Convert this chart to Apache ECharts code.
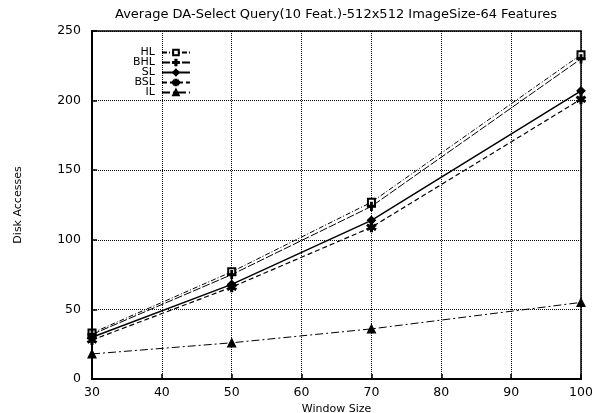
<!DOCTYPE html>
<html lang="en">
<head>
    <meta charset="UTF-8">
    <title>Average DA-Select Query</title>
    <script src="https://cdn.jsdelivr.net/npm/echarts@6/dist/echarts.min.js"></script>
    <style>
        html, body { margin: 0; padding: 0; background: #fff; }
        #main { width: 592px; height: 413px; }
    </style>
</head>
<body>
    <div id="main"></div>
    <script>
        // window sizes on the x axis
        var windowSizes = [30, 50, 70, 100];
        // disk accesses per method
        var hl  = [33, 77, 127, 233];
        var bhl = [32, 75, 124, 230];
        var sl  = [30, 68, 114, 207];
        var bsl = [28, 66, 109, 201];
        var il  = [18, 26, 36, 55];
        var names = ['HL', 'BHL', 'SL', 'BSL', 'IL'];

        var plusPath = 'path://M4,0h2v4h4v2h-4v4h-2v-4h-4v-2h4z';
        var starPath = 'path://M4,0h2v3.3l2.8,-1.6l1,1.7l-2.8,1.6l2.8,1.6l-1,1.7l-2.8,-1.6v3.3h-2v-3.3l-2.8,1.6l-1,-1.7l2.8,-1.6l-2.8,-1.6l1,-1.7l2.8,1.6z';
        var font = 'DejaVu Sans';

        function pairs(ys) {
            return windowSizes.map(function (x, i) { return [x, ys[i]]; });
        }

        function line(name, ys, symbol, size, lineType, width) {
            return {
                name: name,
                type: 'line',
                data: pairs(ys),
                symbol: symbol,
                symbolSize: size,
                color: '#000',
                itemStyle: { color: '#000', borderColor: '#000', borderWidth: 1.2 },
                lineStyle: { color: '#000', width: width, type: lineType },
                animation: false
            };
        }

        var chart = echarts.init(document.getElementById('main'));
        chart.setOption({
            backgroundColor: '#fff',
            title: {
                text: 'Average DA-Select Query(10 Feat.)-512x512 ImageSize-64 Features',
                left: 331,
                top: 3,
                textAlign: 'center',
                textStyle: { fontFamily: font, fontSize: 13, fontWeight: 'normal', color: '#000' }
            },
            legend: {
                orient: 'vertical',
                left: 128,
                top: 42,
                align: 'right',
                itemGap: -1,
                itemWidth: 28,
                itemHeight: 7,
                textStyle: { fontFamily: font, fontSize: 11, lineHeight: 10, color: '#000', padding: [0, 2, 0, 0] },
                data: names
            },
            grid: {
                left: 92, right: 11, top: 31, bottom: 34,
                outerBoundsMode: 'none',
                show: true, borderColor: '#000', borderWidth: 1.5
            },
            xAxis: {
                type: 'value',
                min: 30, max: 100, interval: 10,
                name: 'Window Size',
                nameLocation: 'middle',
                nameGap: 22,
                nameTextStyle: { fontFamily: font, fontSize: 11, color: '#000' },
                axisLine: { lineStyle: { color: '#000', width: 2 } },
                axisTick: { inside: true, length: 5, lineStyle: { color: '#000', width: 1.5 } },
                axisLabel: { fontFamily: font, fontSize: 12.5, color: '#000', margin: 7 },
                splitLine: { lineStyle: { color: '#000', type: 'dotted', width: 1 } }
            },
            yAxis: {
                type: 'value',
                min: 0, max: 250, interval: 50,
                name: 'Disk Accesses',
                nameLocation: 'middle',
                nameGap: 68,
                nameTextStyle: { fontFamily: font, fontSize: 11, color: '#000' },
                axisLine: { lineStyle: { color: '#000', width: 2 } },
                axisTick: { inside: true, length: 5, lineStyle: { color: '#000', width: 1.5 } },
                axisLabel: { fontFamily: font, fontSize: 12.5, color: '#000', margin: 11 },
                splitLine: { lineStyle: { color: '#000', type: 'dotted', width: 1 } }
            },
            series: [
                line('HL', hl, 'emptyRect', 7, [5, 2, 1, 2], 1),
                line('BHL', bhl, plusPath, 8, [8, 2], 1),
                line('SL', sl, 'diamond', 8, 'solid', 1.5),
                line('BSL', bsl, starPath, 9, [5, 3], 1.2),
                line('IL', il, 'triangle', 8, [8, 3, 2, 3], 1)
            ]
        });
        window.addEventListener('resize', function () {
            chart.resize();
        });
    </script>
</body>
</html>
